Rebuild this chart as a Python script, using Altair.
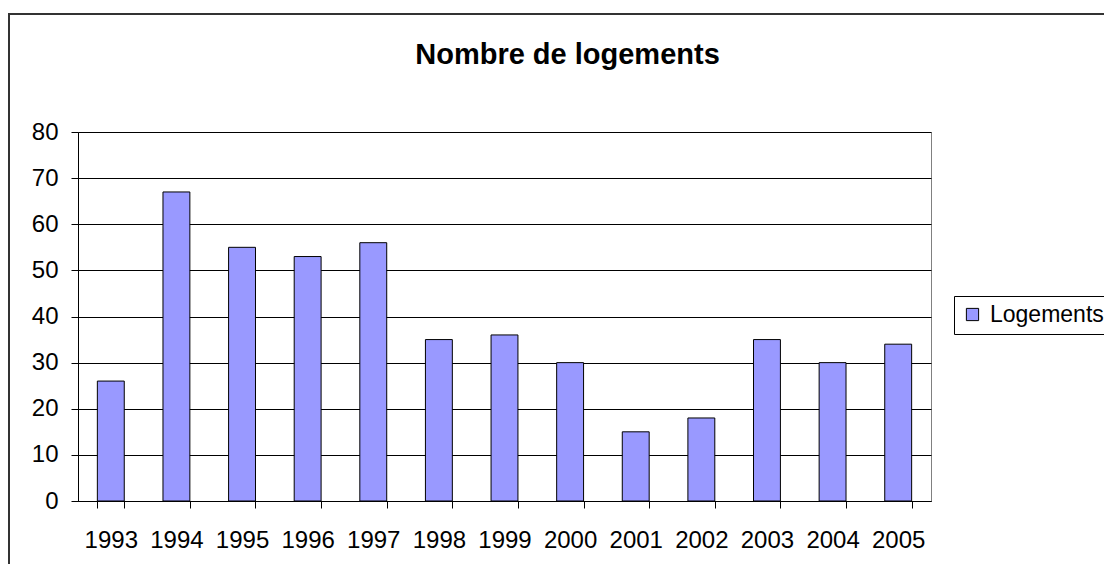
import altair as alt
import pandas as pd

years = ["1993", "1994", "1995", "1996", "1997", "1998", "1999", "2000",
         "2001", "2002", "2003", "2004", "2005"]
logements = [26, 67, 55, 53, 56, 35, 36, 30, 15, 18, 35, 30, 34]
series_name = "Logements"
title_text = "Nombre de logements"
y_ticks = [0, 10, 20, 30, 40, 50, 60, 70, 80]

df = pd.DataFrame({"annee": years, "valeur": logements, "serie": [series_name] * len(years)})

FONT = "Liberation Sans"

bars = alt.Chart(df).mark_bar(stroke="black", strokeWidth=1).encode(
    x=alt.X("annee:N", sort=years, title=None,
            scale=alt.Scale(paddingInner=0.59, paddingOuter=0.295),
            axis=alt.Axis(labelAngle=0, labelFontSize=24, labelFont=FONT, labelColor="black",
                          tickBand="extent", tickSize=7, tickColor="black",
                          domainColor="black", labelPadding=20, grid=False)),
    y=alt.Y("valeur:Q", title=None,
            scale=alt.Scale(domain=[0, 80], nice=False),
            axis=alt.Axis(values=y_ticks, labelFontSize=24, labelFont=FONT, labelColor="black",
                          tickSize=7, tickColor="black", domainColor="black",
                          gridColor="black", gridWidth=1, labelPadding=13)),
    color=alt.Color("serie:N", scale=alt.Scale(range=["#9999FF"]),
                    legend=alt.Legend(title=None, orient="none", legendX=876, legendY=164,
                                      symbolType="square", symbolSize=150,
                                      symbolStrokeColor="black", symbolStrokeWidth=1,
                                      labelFontSize=23, labelFont=FONT, labelColor="black",
                                      strokeColor="black", padding=7, labelOffset=6)),
)

border = alt.Chart(pd.DataFrame({"a": [0]})).mark_rect(
    filled=False, stroke="#333333", strokeWidth=2, clip=False
).encode(x=alt.value(-69), x2=alt.value(1150), y=alt.value(-118), y2=alt.value(700))

chart = alt.layer(border, bars).properties(
    width=853, height=369,
    padding={"left": 70, "top": 124, "right": 173, "bottom": 63},
    autosize=alt.AutoSizeParams(type="none"),
    title=alt.TitleParams(title_text, fontSize=29, fontWeight="bold", font=FONT, color="black",
                          anchor="middle", frame="group", dx=63, offset=-80,
                          baseline="alphabetic"),
).configure_view(stroke="#808080", strokeWidth=1)

chart.save("out.html", embed_options={"renderer": "svg", "actions": False})
